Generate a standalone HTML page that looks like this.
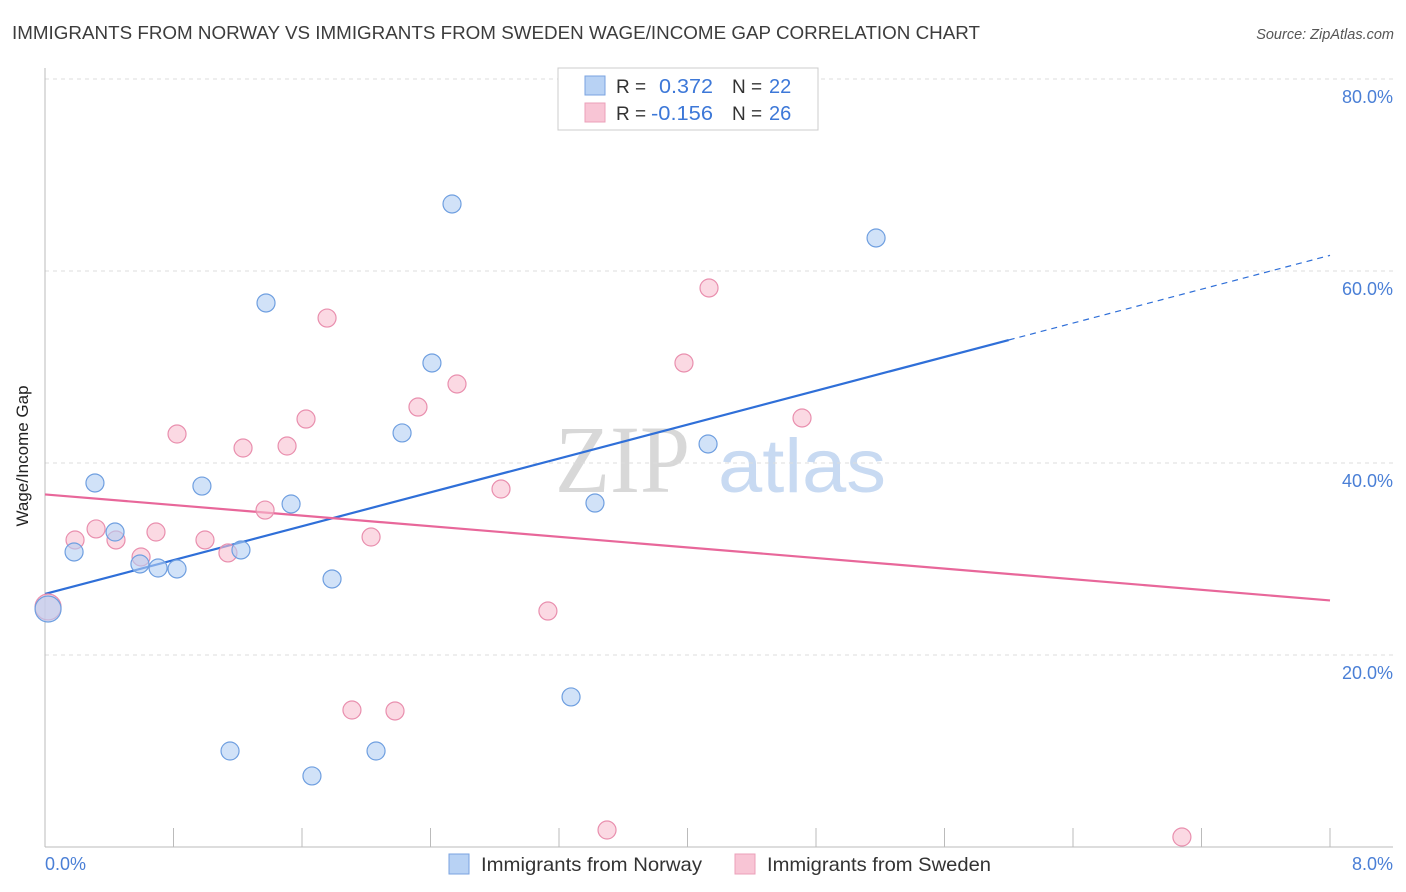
<!DOCTYPE html>
<html><head><meta charset="utf-8"><style>
body{margin:0;background:#fff;font-family:"Liberation Sans",sans-serif}
#wrap{position:relative;width:1406px;height:892px;overflow:hidden}
</style></head><body>
<div id="wrap">
<svg id="chart" width="1406" height="892">
<text x="12" y="39" font-size="18" fill="#3c3c3c" textLength="968" lengthAdjust="spacingAndGlyphs">IMMIGRANTS FROM NORWAY VS IMMIGRANTS FROM SWEDEN WAGE/INCOME GAP CORRELATION CHART</text>
<text x="1394" y="39" font-size="14.5" fill="#555" font-style="italic" text-anchor="end">Source: ZipAtlas.com</text>
<g>
<text x="555" y="492" font-size="96" font-family="Liberation Serif,serif" fill="#d8d8d8" textLength="135" lengthAdjust="spacingAndGlyphs">ZIP</text>
<text x="718" y="492" font-size="76" fill="#c8daf2" textLength="168" lengthAdjust="spacingAndGlyphs">atlas</text>
</g>
<g id="grid"></g>
<g id="axes"></g>
<g id="lines"></g>
<g id="pts"></g>
<text x="28" y="456" font-size="17" fill="#222" text-anchor="middle" transform="rotate(-90 28 456)">Wage/Income Gap</text>
<text x="45" y="870" font-size="18" fill="#4a7fd6">0.0%</text>
<text x="1393" y="870" font-size="18" fill="#4a7fd6" text-anchor="end">8.0%</text>
<g>
<rect x="558" y="68" width="260" height="62" fill="#fff" stroke="#ccc"/>
<rect x="585" y="76" width="20" height="19" fill="#b8d2f4" stroke="#7aa3e0"/>
<rect x="585" y="103" width="20" height="19" fill="#f8c5d5" stroke="#eba0b9"/>
<text x="616" y="93" font-size="19" fill="#333">R =</text>
<text x="659" y="93" font-size="20" fill="#3d78d8" textLength="54" lengthAdjust="spacingAndGlyphs">0.372</text>
<text x="732" y="93" font-size="19" fill="#333">N =</text>
<text x="769" y="93" font-size="20" fill="#3d78d8">22</text>
<text x="616" y="120" font-size="19" fill="#333">R =</text>
<text x="651" y="120" font-size="20" fill="#3d78d8" textLength="62" lengthAdjust="spacingAndGlyphs">-0.156</text>
<text x="732" y="120" font-size="19" fill="#333">N =</text>
<text x="769" y="120" font-size="20" fill="#3d78d8">26</text>
</g>
<g>
<rect x="449" y="854" width="20" height="20" fill="#b8d2f4" stroke="#7aa3e0"/>
<text x="481" y="871" font-size="19.5" fill="#333" textLength="221" lengthAdjust="spacingAndGlyphs">Immigrants from Norway</text>
<rect x="735" y="854" width="20" height="20" fill="#f8c5d5" stroke="#eba0b9"/>
<text x="767" y="871" font-size="19.5" fill="#333" textLength="224" lengthAdjust="spacingAndGlyphs">Immigrants from Sweden</text>
</g>
</svg>
</div>
<script>
const yTicks=[20,40,60,80];
const yTickLabels=["20.0%","40.0%","60.0%","80.0%"];
const xTicks=[0.8,1.6,2.4,3.2,4.0,4.8,5.6,6.4,7.2,8.0];
const norwayX=[2.534,5.174,1.376,2.409,2.223,4.128,0.311,0.977,1.532,3.424,0.436,0.181,1.220,0.591,0.704,0.822,1.787,0.019,3.275,1.152,2.061,1.662];
const norwayY=[66.98,63.44,56.67,50.42,43.13,41.98,37.92,37.60,35.73,35.83,32.81,30.73,30.94,29.48,29.06,28.96,27.92,24.79,15.63,10.0,10.0,7.40];
const swedenX=[4.134,1.756,3.978,2.565,2.322,1.625,4.713,0.822,1.233,1.507,2.839,1.370,0.318,0.691,0.442,0.187,0.996,0.598,1.139,2.030,3.131,0.019,1.911,2.179,3.499,7.078];
const swedenY=[58.23,55.10,50.42,48.23,45.83,44.58,44.69,43.02,41.56,41.77,37.29,35.10,33.13,32.81,31.98,31.98,31.98,30.21,30.63,32.29,24.58,25.0,14.27,14.17,1.77,1.04];
const NS="http://www.w3.org/2000/svg";
const X=v=>45+v/8*1285, Y=v=>847-v*9.6;
function mk(p,t,a){const e=document.createElementNS(NS,t);for(const k in a)e.setAttribute(k,a[k]);document.getElementById(p).appendChild(e);return e;}
yTicks.forEach((t,i)=>{
 const g=mk('grid','line',{x1:45,x2:1393,y1:Y(t),y2:Y(t),stroke:'#ddd','stroke-dasharray':'4,4'});
 
 
 const l=mk('grid','text',{x:1393,y:Y(t)+24,'font-size':18,fill:'#4a7fd6','text-anchor':'end'});
 l.textContent=yTickLabels[i];
 
 
});
const ax=mk('axes','line',{x1:45,x2:45,y1:68,y2:847,stroke:'#bbb'});


const bx=mk('axes','line',{x1:45,x2:1393,y1:847,y2:847,stroke:'#bbb'});


xTicks.forEach(t=>{const e=mk('axes','line',{x1:X(t),x2:X(t),y1:828,y2:847,stroke:'#bbb'});
 
 });
function fit(xs,ys){const n=xs.length;let mx=0,my=0;for(let i=0;i<n;i++){mx+=xs[i];my+=ys[i];}mx/=n;my/=n;let sxy=0,sxx=0;for(let i=0;i<n;i++){sxy+=(xs[i]-mx)*(ys[i]-my);sxx+=(xs[i]-mx)**2;}const b=sxy/sxx;return [my-b*mx,b];}
const [ba,bb]=fit(norwayX,norwayY);
const bl=mk('lines','line',{x1:X(0),y1:Y(ba),x2:X(6),y2:Y(ba+bb*6),stroke:'#2f6fd8','stroke-width':2.2});


const bd=mk('lines','line',{x1:X(6),y1:Y(ba+bb*6),x2:X(8),y2:Y(ba+bb*8),stroke:'#2f6fd8','stroke-width':1.2,'stroke-dasharray':'6,5'});


const [pa,pb]=fit(swedenX,swedenY);
const pl=mk('lines','line',{x1:X(0),y1:Y(pa),x2:X(8),y2:Y(pa+pb*8),stroke:'#e8679a','stroke-width':2.2});


function pts(xs,ys,fill,stroke,name){xs.forEach((x,i)=>{const r=(i===(name==='norway-point'?17:21))?13:9;
 const c=mk('pts','circle',{cx:X(x),cy:Y(ys[i]),r:r,fill:fill,'fill-opacity':0.6,stroke:stroke,'stroke-width':1.2});
 
 });}
pts(swedenX,swedenY,'#f8bfd1','#e98fae','sweden-point');
pts(norwayX,norwayY,'#b3cff3','#6f9fe0','norway-point');
</script>
</body></html>
